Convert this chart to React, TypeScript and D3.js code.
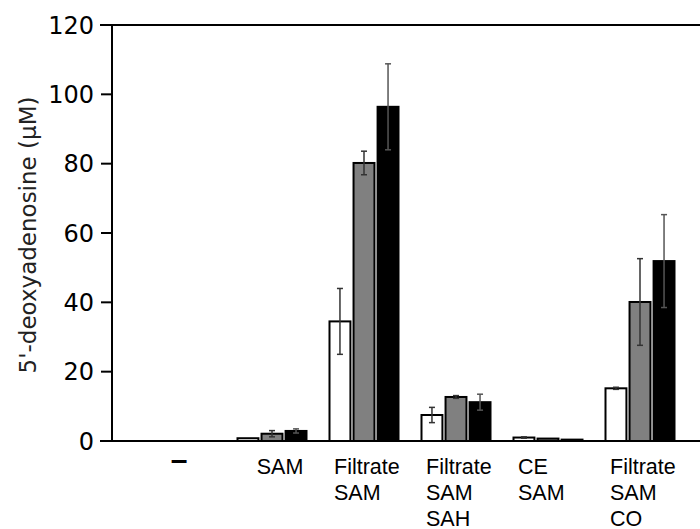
import React, { useEffect, useRef } from 'react'
import { scaleBand, scaleLinear, select } from 'd3'

const categories = ['—', 'SAM', 'Filtrate\nSAM', 'Filtrate\nSAM\nSAH', 'CE\nSAM', 'Filtrate\nSAM\nCO']
const seriesNames = ['a', 'b', 'c']
const seriesFill = ['#ffffff', '#808080', '#000000']

// values per series, one per category (first category has no bars)
const whiteVals = [0, 0.8, 34.5, 7.5, 1.0, 15.2]
const grayVals = [0, 2.1, 80.2, 12.7, 0.7, 40.1]
const blackVals = [0, 2.9, 96.4, 11.2, 0.4, 51.9]
const whiteErr = [0, 0, 9.5, 2.2, 0.2, 0.3]
const grayErr = [0, 0.9, 3.4, 0.4, 0, 12.5]
const blackErr = [0, 0.6, 12.4, 2.3, 0, 13.4]

const yTicks = [0, 20, 40, 60, 80, 100, 120]

const App = () => {
  const labelsRef = useRef<SVGGElement>(null)

  const width = 700
  const height = 529
  const margin = { top: 25, left: 112, bottom: 88 }

  const y = scaleLinear().domain([0, 120]).range([height - margin.bottom, margin.top])
  const x = scaleBand().domain(categories).range([134, 686]).padding(0)
  const inner = scaleBand().domain(seriesNames).range([-34.5, 34.5]).paddingInner(0.13).paddingOuter(0)

  const vals = [whiteVals, grayVals, blackVals]
  const errs = [whiteErr, grayErr, blackErr]

  // multi-line labels sit left-aligned a bit left of the group centre,
  // single-line ones are centred
  useEffect(() => {
    const g = select(labelsRef.current)
    g.selectAll<SVGGElement, unknown>('g.lab').each(function () {
      const node = this as SVGGElement
      const bb = node.getBBox()
      const cx = +(node.getAttribute('data-cx') || 0)
      const multi = node.getAttribute('data-multi') === '1'
      const left = multi ? cx - 30 : cx - bb.width / 2
      select(node).attr('transform', `translate(${left},0)`)
    })
  }, [])

  return (
    <svg width={width} height={height} style={{ position: 'absolute', left: 0, top: 0 }}>
      <rect width={width} height={height} fill="#fff" />
      {/* bars */}
      {categories.map((c, ci) =>
        seriesNames.map((s, si) => {
          const v = vals[si][ci]
          if (v <= 0) return null
          const bx = (x(c) as number) + x.bandwidth() / 2 + (inner(s) as number)
          const bw = inner.bandwidth()
          const e = errs[si][ci]
          const ex = bx + bw / 2
          return (
            <g key={c + s}>
              <rect x={bx} y={y(v)} width={bw} height={y(0) - y(v)}
                fill={seriesFill[si]} stroke="#000" strokeWidth={2} />
              {e > 0 && (
                <g stroke={si === 2 ? '#555' : '#333'} strokeWidth={1.5}>
                  <line x1={ex} x2={ex} y1={y(v + e)} y2={y(v - e)} />
                  <line x1={ex - 3} x2={ex + 3} y1={y(v + e)} y2={y(v + e)} />
                  <line x1={ex - 3} x2={ex + 3} y1={y(v - e)} y2={y(v - e)} />
                </g>
              )}
            </g>
          )
        })
      )}
      {/* axes */}
      <line x1={100} x2={700} y1={y(0)} y2={y(0)} stroke="#000" strokeWidth={2} />
      <line x1={100} x2={700} y1={y(120)} y2={y(120)} stroke="#000" strokeWidth={2} />
      <line x1={margin.left} x2={margin.left} y1={y(120)} y2={y(0)} stroke="#000" strokeWidth={2} />
      {yTicks.map(t => (
        <g key={t}>
          <line x1={101} x2={margin.left} y1={y(t)} y2={y(t)} stroke="#000" strokeWidth={2} />
          <text x={94} y={y(t)} dy="0.36em" textAnchor="end" fontFamily="DejaVu Sans" fontSize={24} fill="#000">{t}</text>
        </g>
      ))}
      <text transform={`translate(36,${(y(0) + y(120)) / 2 + 2}) rotate(-90)`} textAnchor="middle"
        fontFamily="DejaVu Sans" fontSize={23} fill="#222">5'-deoxyadenosine (µM)</text>
      {/* category labels */}
      <g ref={labelsRef} fontFamily="Liberation Sans, Arial, sans-serif" fontSize={21.5} fill="#000">
        {categories.map((c, ci) => {
          const cx = (x(c) as number) + x.bandwidth() / 2
          if (ci === 0) {
            return (
              <g key={c} className="lab" data-cx={cx - 1}>
                <text x={0} y={470} fontSize={30} fontWeight="bold">–</text>
              </g>
            )
          }
          const lines = c.split('\n')
          return (
            <g key={c} className="lab" data-cx={lines.length > 1 ? cx : cx + 8} data-multi={lines.length > 1 ? '1' : '0'}>
              {lines.map((line, li) => (
                <text key={li} x={0} y={474 + li * 26}>{line}</text>
              ))}
            </g>
          )
        })}
      </g>
    </svg>
  )
}

export default App
